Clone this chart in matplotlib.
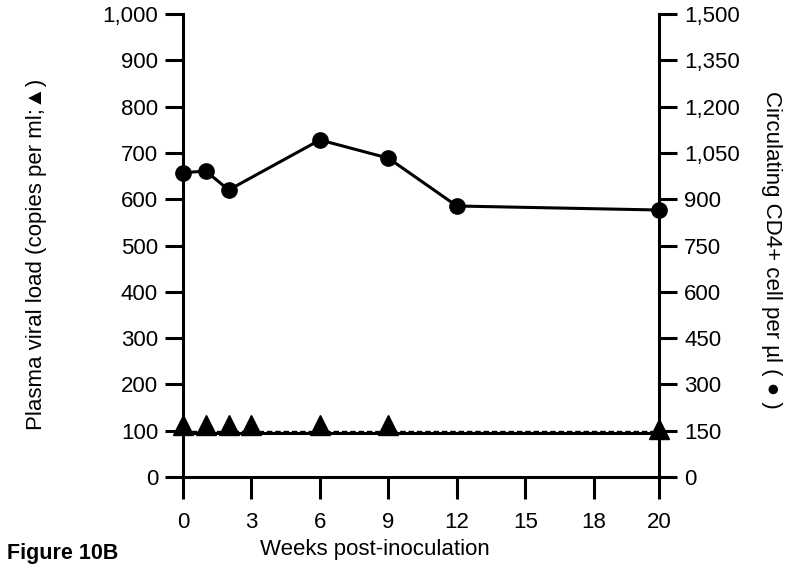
import numpy as np
import matplotlib.pyplot as plt
from matplotlib.ticker import FuncFormatter

plt.rcParams['font.family'] = ['Liberation Sans', 'DejaVu Sans']

# data
weeks_cd4 = [0, 1, 2, 6, 9, 12, 20]
cd4_counts = [986, 991, 930, 1092, 1033, 878, 865]
weeks_vl = [0, 1, 2, 3, 6, 9, 20]
viral_load = [112, 112, 112, 112, 112, 112, 104]
detection_limit = 100
baseline = 95
x_ticks = [0, 3, 6, 9, 12, 15, 18, 20]
left_ticks = list(range(0, 1001, 100))
right_ticks = list(range(0, 1501, 150))


# the axis is stretched after week 18 (20 sits at the far end)
def fwd(x):
    x = np.asarray(x, dtype=float)
    return np.where(x <= 18, x, 18 + (x - 18) * 1.43)


def inv(y):
    y = np.asarray(y, dtype=float)
    return np.where(y <= 18, y, 18 + (y - 18) / 1.43)


comma = FuncFormatter(lambda v, p: f'{int(v):,}')
fs = 16

fig = plt.figure(figsize=(8, 5.84), dpi=100)
ax = fig.add_axes([0.2288, 0.1832, 0.595, 0.7928])
ax.set_xscale('function', functions=(fwd, inv))
ax.set_xlim(0, 20)
ax.set_ylim(0, 1000)
ax.set_xticks(x_ticks)
ax.set_xticklabels([str(t) for t in x_ticks])
ax.set_yticks(left_ticks)
ax.yaxis.set_major_formatter(comma)
ax.minorticks_off()

for s in ['top', 'right']:
    ax.spines[s].set_visible(False)
for s in ['left', 'bottom']:
    ax.spines[s].set_linewidth(2.2)
ax.tick_params(axis='x', length=16, width=2.2, labelsize=fs, pad=9)
ax.tick_params(axis='y', length=13, width=2.2, labelsize=fs, pad=5)

# viral load
ax.hlines(detection_limit, 0, 20, linestyles=(0, (4, 2)), lw=1.0, color='black')
ax.hlines(baseline, 0, 20, lw=2.2, color='black')
ax.plot(weeks_vl, viral_load, linestyle='none', marker='^', ms=14,
        color='black', clip_on=False, zorder=5)

# CD4 counts
ax2 = ax.twinx()
ax2.set_ylim(0, 1500)
ax2.set_yticks(right_ticks)
ax2.yaxis.set_major_formatter(comma)
for s in ['top', 'left', 'bottom']:
    ax2.spines[s].set_visible(False)
ax2.spines['right'].set_linewidth(2.2)
ax2.tick_params(axis='y', length=13, width=2.2, labelsize=fs, pad=5)
ax2.plot(weeks_cd4, cd4_counts, '-o', color='black', lw=2.2, ms=11, clip_on=False)

ax.set_ylabel('Plasma viral load (copies per ml;▲)', fontsize=fs)
ax.yaxis.set_label_coords(-0.286, 0.48)
ax2.set_ylabel('Circulating CD4+ cell per µl ( ● )', fontsize=fs, rotation=-90)
ax2.yaxis.set_label_coords(1.258, 0.49)

fig.text(375 / 800, 1 - 549 / 584, 'Weeks post-inoculation', fontsize=fs,
         ha='center', va='center')
fig.text(7 / 800, 1 - 553 / 584, 'Figure 10B', fontsize=15.5, fontweight='bold',
         ha='left', va='center')

fig.savefig('out.png', dpi=100)
